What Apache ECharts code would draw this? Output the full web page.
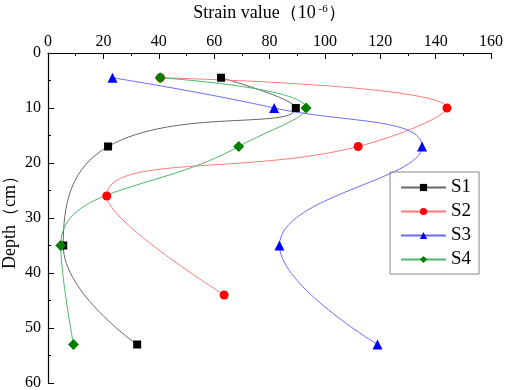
<!DOCTYPE html>
<html>
<head>
<meta charset="utf-8">
<script src="https://cdn.jsdelivr.net/npm/echarts@6/dist/echarts.min.js"></script>
<style>
  html, body { margin: 0; padding: 0; background: #fff; }
  #chart { width: 505px; height: 390px; }
</style>
</head>
<body>
<div id="chart"></div>
<script>
    // strain values (10^-6) at each depth (cm)
    var s1Strain = [62.5, 89.5, 21.7, 5.5, 32.2]
    var s1Depth = [4.5, 10, 17, 35, 53]
    var s2Strain = [40.6, 144.1, 112, 21.2, 63.6]
    var s2Depth = [4.5, 10, 17, 26, 44]
    var s3Strain = [23.3, 81.7, 135.1, 83.6, 119]
    var s3Depth = [4.5, 10, 17, 35, 53]
    var s4Strain = [40.5, 93.2, 68.9, 4.6, 9.2]
    var s4Depth = [4.5, 10, 17, 35, 53]

    function pairs(xs, ys) {
        return xs.map(function (x, i) { return [x, ys[i]] })
    }

    var font = '"Liberation Serif", "Times New Roman", serif'
    var chart = echarts.init(document.getElementById('chart'))

    function line(name, data, lineColor, markColor, symbol, size) {
        return {
            name: name,
            type: 'line',
            data: data,
            smooth: 0.45,
            symbol: symbol,
            symbolSize: size,
            lineStyle: {color: lineColor, width: 1},
            itemStyle: {color: markColor},
            z: 3
        }
    }

    chart.setOption({
        animation: false,
        grid: {left: 48, right: 14, top: 53, bottom: 7, containLabel: false, outerBoundsMode: 'none'},
        legend: {
            orient: 'vertical',
            left: 390,
            top: 172,
            itemWidth: 45,
            itemHeight: 9,
            itemGap: 5,
            padding: [6, 8, 5, 10],
            borderColor: '#888',
            borderWidth: 1,
            textStyle: {fontFamily: font, fontSize: 19, color: '#000'},
            data: ['S1', 'S2', 'S3', 'S4']
        },
        xAxis: {
            type: 'value',
            position: 'top',
            min: 0,
            max: 160,
            interval: 20,
            name: '{a|Strain value（10}{b| -6}{a|）}',
            nameLocation: 'middle',
            nameGap: 30,
            nameMoveOverlap: false,
            nameTextStyle: {
                rich: {
                    a: {fontFamily: font, fontSize: 18, color: '#000'},
                    b: {fontFamily: font, fontSize: 11, color: '#000', verticalAlign: 'top', padding: [0, 0, 8, 0]}
                }
            },
            axisLine: {lineStyle: {color: '#000', width: 1.2}},
            axisTick: {inside: true, length: 6, lineStyle: {color: '#000'}},
            minorTick: {show: true, splitNumber: 2, length: 3, lineStyle: {color: '#000'}},
            axisLabel: {fontFamily: font, fontSize: 16, color: '#000', margin: 3},
            splitLine: {show: false}
        },
        yAxis: {
            type: 'value',
            inverse: true,
            min: 0,
            max: 60,
            interval: 10,
            name: 'Depth（cm）',
            nameLocation: 'middle',
            nameRotate: 90,
            nameGap: 29,
            nameMoveOverlap: false,
            nameTextStyle: {fontFamily: font, fontSize: 18, color: '#000'},
            axisLine: {lineStyle: {color: '#000', width: 1.2}},
            axisTick: {inside: true, length: 6, lineStyle: {color: '#000'}},
            minorTick: {show: true, splitNumber: 2, length: 3, lineStyle: {color: '#000'}},
            axisLabel: {fontFamily: font, fontSize: 16, color: '#000', margin: 7},
            splitLine: {show: false}
        },
        series: [
            line('S1', pairs(s1Strain, s1Depth), '#666', '#000', 'rect', 8),
            line('S2', pairs(s2Strain, s2Depth), '#ff7a7a', '#ff0000', 'circle', 9),
            line('S3', pairs(s3Strain, s3Depth), '#6b6bff', '#0000ff', 'triangle', 10),
            line('S4', pairs(s4Strain, s4Depth), '#4cb86a', '#007f00', 'diamond', 11)
        ]
    })
</script>
</body>
</html>
